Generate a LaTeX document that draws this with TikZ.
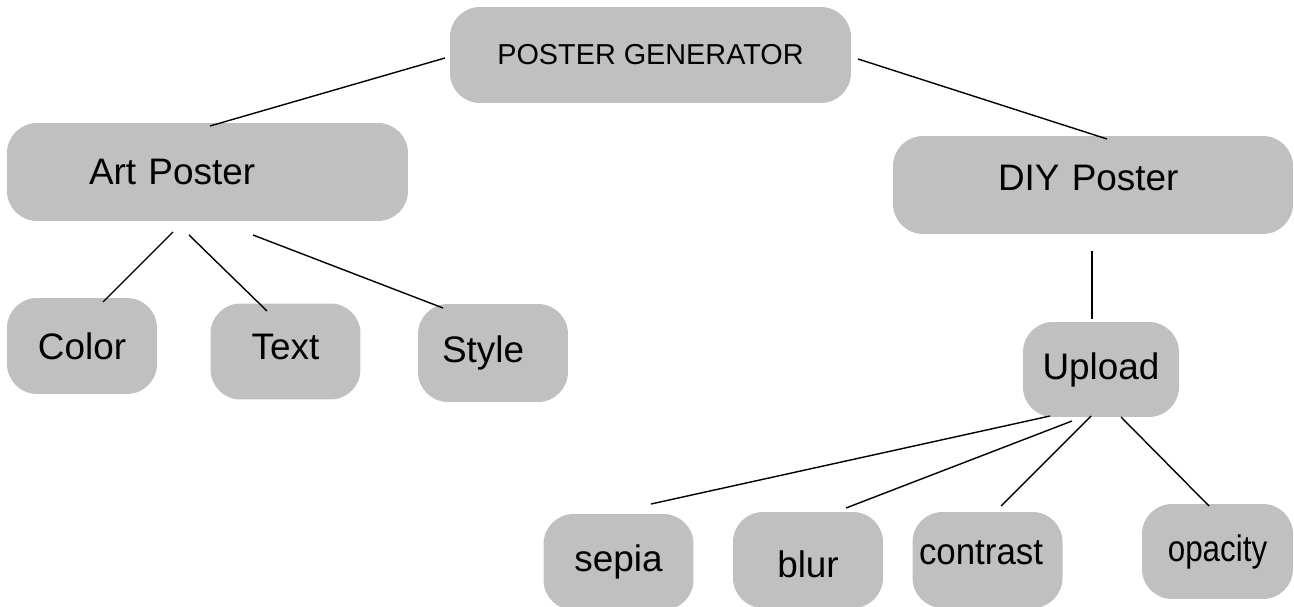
\documentclass[tikz,border=0pt]{standalone}
\usepackage{fontspec}
\setmainfont{Liberation Sans}
\definecolor{boxgray}{HTML}{C0C0C0}

\begin{document}
\begin{tikzpicture}[x=0.02cm,y=-0.02cm,
  box/.style={fill=boxgray, rounded corners=0.6cm, inner sep=0pt, font=\fontsize{21}{25}\selectfont},
  wide/.style={box, minimum width=8.02cm, minimum height=1.96cm},
  small/.style={box, minimum width=3cm, minimum height=1.92cm},
  squeeze/.style={font=\fontsize{21}{25}\selectfont\addfontfeature{FakeStretch=#1}},
  link/.style={line width=0.8pt}]
\clip (0,0) rectangle (1294,607);
% boxes
\node[wide, minimum height=1.92cm, font=\fontsize{16.4}{19}\selectfont] (gen) at (650.5,55) {POSTER GENERATOR};
\node[wide, text width=4.74cm, align=left] (art) at (207.5,172) {Art Poster};
\node[wide, minimum width=8cm, text width=3.8cm, align=left, text depth=0.28cm] (diy) at (1093,185) {DIY Poster};
\node[small] (color) at (82,346) {Color};
\node[small, text depth=0.2cm] (txt) at (285.5,351.5) {Text};
\node[small, minimum height=1.96cm, text width=2.04cm, align=left] (style) at (493,353) {Style};
\node[small, minimum width=3.12cm, minimum height=1.9cm] (upload) at (1101,369.5) {Upload};
\node[small] (sepia) at (618.5,562) {sepia};
\node[small, text height=0.71cm] (blur) at (808,560) {blur};
\node[small, squeeze=0.945, text width=2.74cm, align=left, text depth=0.28cm] (contrast) at (987.5,560) {contrast};
\node[small, squeeze=0.85, minimum width=3.02cm, minimum height=1.9cm] (opacity) at (1217.5,551.5) {opacity};
% connector ends
\coordinate (gen-w) at (445,58);
\coordinate (gen-e) at (858,59);
\coordinate (art-n) at (210,126);
\coordinate (art-s1) at (173,232);
\coordinate (art-s2) at (189,235);
\coordinate (art-s3) at (253,235);
\coordinate (diy-n) at (1107,139);
\coordinate (diy-s) at (1092,251);
\coordinate (color-n) at (103,302);
\coordinate (txt-n) at (267,311);
\coordinate (style-n) at (443,308);
\coordinate (upload-n) at (1092,319);
\coordinate (upload-s1) at (1050,416);
\coordinate (upload-s2) at (1072,421);
\coordinate (upload-s3) at (1091,416);
\coordinate (upload-s4) at (1121,417);
\coordinate (sepia-n) at (651,504);
\coordinate (blur-n) at (846,508);
\coordinate (contrast-n) at (1001,506);
\coordinate (opacity-n) at (1209,506);
\foreach \a/\b in {gen-w/art-n, gen-e/diy-n, art-s1/color-n, art-s2/txt-n, art-s3/style-n,
  diy-s/upload-n, upload-s1/sepia-n, upload-s2/blur-n, upload-s3/contrast-n, upload-s4/opacity-n}
  {\draw[link] (\a) -- (\b);}
\end{tikzpicture}
\end{document}
